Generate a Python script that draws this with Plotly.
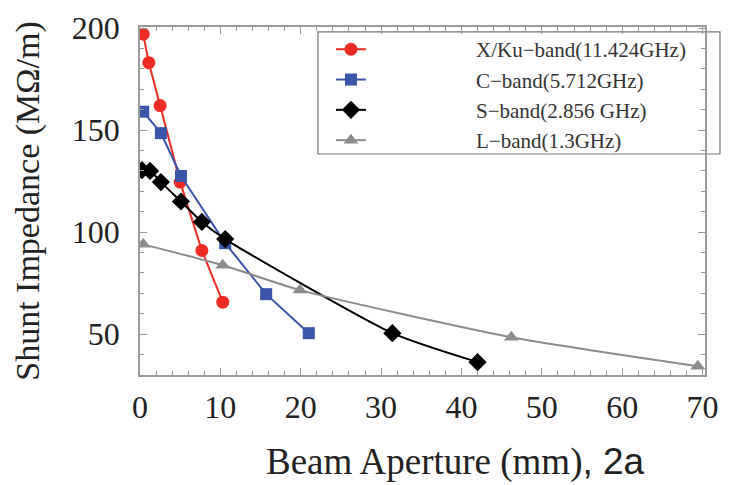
import plotly.graph_objects as go

names = ["X/Ku\u2212band(11.424GHz)", "C\u2212band(5.712GHz)", "S\u2212band(2.856 GHz)", "L\u2212band(1.3GHz)"]

x_xku = [0.4, 1.1, 2.5, 5.0, 7.7, 10.3]
y_xku = [197, 183, 162, 124.5, 91, 65.7]

x_c = [0.4, 2.6, 5.1, 10.6, 15.7, 21.0]
y_c = [159, 148.5, 127.5, 94.6, 69.6, 50.5]

x_s = [0.25, 1.25, 2.6, 5.1, 7.7, 10.6, 31.4, 42.0]
y_s = [130.4, 130, 124.5, 115, 105, 96.6, 50.5, 36.3]

x_l = [0.4, 10.3, 19.9, 46.2, 69.4]
y_l = [94, 83.8, 71.6, 48.5, 34.3]

x_ticks = [0, 10, 20, 30, 40, 50, 60, 70]
y_ticks = [50, 100, 150, 200]

x_title = 'Beam Aperture (mm)<span style="font-family:Liberation Sans, Arial, sans-serif">, 2a</span>'
y_title = "Shunt Impedance (M\u03a9/m)"

colors = ["#EE2B25", "#3B55AA", "#000000", "#8C8C8C"]
symbols = ["circle", "square", "diamond", "triangle-up"]
shapes = ["linear", "linear", "spline", "spline"]
sizes = [13, 12, 14, 13]

pad = "\u00a0" * 20

fig = go.Figure()
for nm, xs, ys, c, s, sh, sz in zip(names, [x_xku, x_c, x_s, x_l], [y_xku, y_c, y_s, y_l],
                                     colors, symbols, shapes, sizes):
    fig.add_trace(go.Scatter(
        x=xs, y=ys, name=pad + nm, mode="lines+markers",
        line=dict(color=c, width=2, shape=sh, smoothing=0.6),
        marker=dict(symbol=s, color=c, size=sz),
    ))

serif = "Liberation Serif, Times New Roman, serif"
axis_common = dict(
    showline=True, linecolor="#9a9a9a", linewidth=1.5, mirror="allticks",
    ticks="inside", tickcolor="#9a9a9a", ticklen=7, tickwidth=1,
    showgrid=False, zeroline=False, automargin=False,
    tickfont=dict(family=serif, size=32, color="#222"),
)

fig.update_xaxes(
    range=[0, 70.3], tickvals=x_ticks, ticktext=[str(v) for v in x_ticks],
    minor=dict(dtick=2, ticks="inside", ticklen=4, tickcolor="#9a9a9a"),
    ticklabelstandoff=3,
    **axis_common,
)
fig.update_yaxes(
    range=[30, 200.5], tickvals=y_ticks, ticktext=[str(v) for v in y_ticks],
    minor=dict(dtick=10, ticks="inside", ticklen=4, tickcolor="#9a9a9a"),
    ticklabelstandoff=12,
    title=dict(text=y_title, font=dict(family=serif, size=34, color="#222"), standoff=22),
    **axis_common,
)

# x-axis title (offset to the right as in the original)
fig.add_annotation(text=x_title, xref="paper", yref="paper", x=0.559, y=-0.25,
                   xanchor="center", yanchor="middle", showarrow=False,
                   font=dict(family=serif, size=37, color="#222"))

# legend frame
fig.add_shape(type="rect", xref="paper", yref="paper",
              x0=0.315, x1=1.0265, y0=0.635, y1=0.986,
              line=dict(color="#777", width=1.2), fillcolor="white", layer="below")

fig.update_layout(
    width=734, height=485,
    margin=dict(l=132, r=37, t=19, b=118),
    paper_bgcolor="white", plot_bgcolor="white",
    showlegend=True,
    legend=dict(
        x=0.338, y=0.994, xanchor="left", yanchor="top",
        bgcolor="rgba(0,0,0,0)", borderwidth=0,
        font=dict(family=serif, size=21, color="#333"),
        tracegroupgap=0,
    ),
)

fig.write_html("out.html")
